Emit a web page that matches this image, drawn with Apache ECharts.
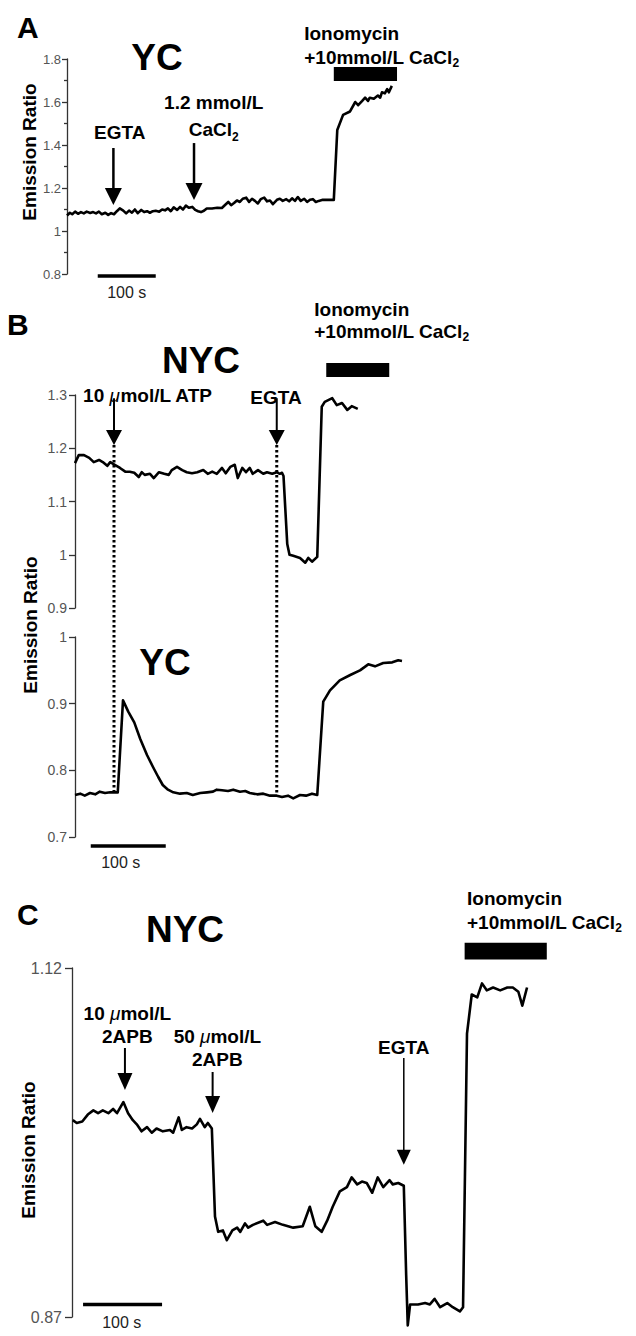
<!DOCTYPE html>
<html>
<head>
<meta charset="utf-8">
<script src="https://cdn.jsdelivr.net/npm/echarts@6/dist/echarts.min.js"></script>
<style>
html,body{margin:0;padding:0;background:#fff;}
#chart{width:636px;height:1336px;}
</style>
</head>
<body>
<div id="chart"></div>
<script>
// ================= DATA =================
// Panel A – YC, emission ratio vs time (s)
const timeA = [0,5,9,14,19,24,29,34,40,45,50,55,60,66,71,76,81,86,91,97,102,107,112,117,122,128,133,138,143,148,153,159,164,169,174,179,184,190,195,200,205,210,216,221,226,231,236,241,250,259,267,272,278,283,288,293,298,303,309,314,319,324,329,334,340,345,350,355,362,367,372,378,383,388,393,398,403,409,414,419,424,429,434,441,448,460,466,476,488,497,502,509,514,519,522,529,536,540,543,548,552,555,560];
const ratioA = [1.072,1.085,1.078,1.09,1.08,1.088,1.082,1.09,1.084,1.088,1.082,1.09,1.078,1.085,1.075,1.083,1.078,1.092,1.105,1.095,1.082,1.095,1.085,1.1,1.083,1.098,1.088,1.092,1.085,1.092,1.094,1.09,1.1,1.096,1.105,1.092,1.11,1.098,1.112,1.1,1.118,1.108,1.112,1.098,1.092,1.088,1.094,1.105,1.105,1.108,1.107,1.12,1.135,1.12,1.13,1.142,1.135,1.15,1.155,1.135,1.15,1.14,1.128,1.148,1.155,1.138,1.142,1.125,1.145,1.15,1.14,1.148,1.138,1.152,1.14,1.158,1.14,1.15,1.135,1.145,1.148,1.135,1.14,1.145,1.145,1.145,1.47,1.54,1.556,1.6,1.585,1.605,1.62,1.605,1.62,1.615,1.63,1.62,1.645,1.64,1.66,1.645,1.675];

// Panel B – NYC (top) and YC (bottom)
const timeBnyc = [0,5,12,19,25,32,37,43,47,53,60,67,73,79,85,89,93,100,105,112,119,125,129,136,143,149,156,163,171,177,183,189,196,201,207,213,217,223,228,233,237,244,251,256,263,269,273,276,278,283,286,291,300,307,311,316,323,329,333,343,349,356,363,369,377];
const ratioBnyc = [1.172,1.187,1.187,1.182,1.174,1.178,1.174,1.167,1.174,1.169,1.163,1.156,1.156,1.154,1.146,1.155,1.150,1.152,1.144,1.155,1.152,1.150,1.159,1.165,1.159,1.155,1.153,1.155,1.159,1.152,1.156,1.152,1.163,1.153,1.165,1.169,1.144,1.163,1.155,1.163,1.152,1.159,1.152,1.155,1.152,1.155,1.152,1.154,1.148,1.02,1.0,0.998,0.994,0.985,0.994,0.987,0.996,1.278,1.287,1.294,1.281,1.285,1.272,1.279,1.274];
const timeByc = [0,7,13,20,27,33,40,47,57,64,71,79,87,96,104,111,117,124,131,140,149,157,167,176,184,189,196,204,211,220,227,233,243,251,260,269,276,284,291,300,308,316,323,331,340,353,367,380,391,400,411,423,431,436];
const ratioByc = [0.763,0.765,0.762,0.766,0.764,0.768,0.766,0.767,0.767,0.905,0.888,0.872,0.847,0.823,0.805,0.79,0.778,0.771,0.767,0.765,0.766,0.763,0.766,0.767,0.768,0.771,0.77,0.769,0.771,0.768,0.769,0.766,0.764,0.765,0.762,0.762,0.76,0.762,0.758,0.763,0.762,0.765,0.763,0.903,0.92,0.935,0.943,0.95,0.959,0.956,0.961,0.962,0.965,0.964];

// Panel C – NYC
const timeC = [1,6,13,20,27,33,39,46,52,57,65,71,77,82,88,95,101,107,115,124,128,135,139,145,152,158,162,168,172,177,181,185,191,196,203,209,213,219,223,229,242,247,257,267,280,292,301,308,316,323,330,339,348,354,361,367,373,380,387,394,402,406,413,420,423,425,428,438,447,453,459,466,475,482,491,495,500,506,513,519,525,533,542,551,558,565,570,576];
const ratioC = [1.011,1.009,1.010,1.015,1.018,1.016,1.018,1.016,1.019,1.016,1.024,1.016,1.011,1.008,1.003,1.006,1.002,1.005,1.003,1.004,1.002,1.013,1.004,1.006,1.005,1.008,1.012,1.006,1.009,1.005,0.942,0.931,0.932,0.925,0.932,0.934,0.931,0.937,0.934,0.936,0.939,0.936,0.938,0.936,0.934,0.935,0.949,0.935,0.931,0.939,0.949,0.960,0.963,0.970,0.965,0.967,0.966,0.959,0.970,0.963,0.968,0.965,0.966,0.964,0.900,0.864,0.879,0.879,0.880,0.879,0.883,0.877,0.880,0.877,0.874,0.877,1.073,1.101,1.099,1.109,1.104,1.106,1.104,1.106,1.106,1.103,1.093,1.106];

// Tick labels
const ticksA = [0.8, 1.8, 0.2];     // min, max, step
const ticksBnyc = [0.9, 1.3, 0.1];
const ticksByc = [0.7, 1.0, 0.1];
const ticksC = [0.87, 1.12];

// Events (time of addition, s) and labels
const eventsA = [{t: 80, label: 'EGTA'}, {t: 219, label: '1.2 mmol/L\nCaCl{sub|2}'}];
const eventsB = [{t: 52, label: '10 {mu|μ}mol/L ATP'}, {t: 269, label: 'EGTA'}];
const eventsC = [{t: 67, label: '10 {mu|μ}mol/L\n2APB'}, {t: 178, label: '50 {mu|μ}mol/L\n2APB'}, {t: 420, label: 'EGTA'}];
const ionomycinA = [460, 569];
const ionomycinB = [335, 419];
const ionomycinC = [497, 601];
const ionoLabel = 'Ionomycin\n+10mmol/L CaCl{sub|2}';
const scaleBarSeconds = 100;

// ================= STYLE / LAYOUT =================
const FONT = '"Liberation Sans", Arial, Helvetica, sans-serif';
const RICH = {
  sub: {fontSize: 12, fontWeight: 'bold', fontFamily: FONT, lineHeight: 12, verticalAlign: 'bottom', fill: '#000'},
  mu: {fontSize: 19, fontStyle: 'italic', fontWeight: 'normal', fontFamily: FONT, fill: '#000'}
};

// annotation layouts (in data coordinates of each panel)
const annA = [
  {k: 'arrow', t: eventsA[0].t, v0: 1.386, v1: 1.121, hw: 8.5, hh: 17, lw: 2.5},
  {k: 'text', t: 91, v: 1.456, text: eventsA[0].label},
  {k: 'arrow', t: eventsA[1].t, v0: 1.409, v1: 1.144, hw: 8.5, hh: 17, lw: 2.5},
  {k: 'text', t: 253, v: 1.533, text: eventsA[1].label, lh: 27},
  {k: 'rect', t0: ionomycinA[0], t1: ionomycinA[1], v0: 1.763, v1: 1.698},
  {k: 'text', t: 409, v: 1.865, text: ionoLabel, align: 'left', lh: 24},
  {k: 'hbar', t0: 53, t1: 53 + scaleBarSeconds, v: 0.791, lw: 3.5},
  {k: 'stext', t: 103, v: 0.712, text: scaleBarSeconds + ' s'}
];
const annBtop = [
  {k: 'dots', t: eventsB[0].t, v0: 1.206, v1: 0.549},
  {k: 'dots', t: eventsB[1].t, v0: 1.206, v1: 0.549},
  {k: 'arrow', t: eventsB[0].t, v0: 1.294, v1: 1.206, hw: 8, hh: 15, lw: 2},
  {k: 'arrow', t: eventsB[1].t, v0: 1.294, v1: 1.206, hw: 8, hh: 15, lw: 2},
  {k: 'text', t: 97, v: 1.300, text: eventsB[0].label},
  {k: 'text', t: 268, v: 1.296, text: eventsB[1].label},
  {k: 'rect', t0: ionomycinB[0], t1: ionomycinB[1], v0: 1.360, v1: 1.334},
  {k: 'text', t: 319, v: 1.439, text: ionoLabel, align: 'left', lh: 22}
];
const annBbot = [
  {k: 'hbar', t0: 21, t1: 21 + scaleBarSeconds, v: 0.6865, lw: 3.5},
  {k: 'stext', t: 61, v: 0.6625, text: scaleBarSeconds + ' s'}
];
const annC = [
  {k: 'arrow', t: eventsC[0].t, v0: 1.0627, v1: 1.0326, hw: 7.5, hh: 17, lw: 2},
  {k: 'text', t: 70, v: 1.0795, text: eventsC[0].label, lh: 23},
  {k: 'arrow', t: eventsC[1].t, v0: 1.0455, v1: 1.0161, hw: 7.5, hh: 17, lw: 2},
  {k: 'text', t: 184, v: 1.063, text: eventsC[1].label, lh: 23},
  {k: 'arrow', t: eventsC[2].t, v0: 1.0555, v1: 0.979, hw: 7, hh: 15, lw: 1.5},
  {k: 'text', t: 420, v: 1.0634, text: eventsC[2].label},
  {k: 'rect', t0: ionomycinC[0], t1: ionomycinC[1], v0: 1.138, v1: 1.126},
  {k: 'text', t: 500, v: 1.1615, text: ionoLabel, align: 'left', lh: 24},
  {k: 'hbar', t0: 14, t1: 14 + scaleBarSeconds, v: 0.879, lw: 3.5},
  {k: 'stext', t: 63, v: 0.8664, text: scaleBarSeconds + ' s'}
];

function renderAnn(items) {
  return function (params, api) {
    const it = items[params.dataIndex];
    const P = (t, v) => api.coord([t, v]);
    if (it.k === 'arrow') {
      const a = P(it.t, it.v0), b = P(it.t, it.v1);
      return {type: 'group', children: [
        {type: 'line', shape: {x1: a[0], y1: a[1], x2: b[0], y2: b[1] - it.hh + 1}, style: {stroke: '#000', lineWidth: it.lw}},
        {type: 'polygon', shape: {points: [[b[0] - it.hw, b[1] - it.hh], [b[0] + it.hw, b[1] - it.hh], [b[0], b[1]]]}, style: {fill: '#000'}}
      ]};
    }
    if (it.k === 'dots') {
      const a = P(it.t, it.v0), b = P(it.t, it.v1);
      return {type: 'line', shape: {x1: a[0], y1: a[1], x2: b[0], y2: b[1]}, style: {stroke: '#000', lineWidth: 3, lineDash: [2.5, 2.5]}};
    }
    if (it.k === 'rect') {
      const a = P(it.t0, it.v0), b = P(it.t1, it.v1);
      return {type: 'rect', shape: {x: a[0], y: a[1], width: b[0] - a[0], height: b[1] - a[1]}, style: {fill: '#000'}};
    }
    if (it.k === 'hbar') {
      const a = P(it.t0, it.v), b = P(it.t1, it.v);
      return {type: 'line', shape: {x1: a[0], y1: a[1], x2: b[0], y2: b[1]}, style: {stroke: '#000', lineWidth: it.lw}};
    }
    if (it.k === 'text' || it.k === 'stext') {
      const p = P(it.t, it.v);
      const bold = it.k === 'text';
      return {type: 'text', x: p[0], y: p[1], style: {
        text: it.text, rich: RICH,
        fontSize: bold ? 19 : 16, fontWeight: bold ? 'bold' : 'normal', fontFamily: FONT,
        lineHeight: it.lh || 22, fill: bold ? '#000' : '#222',
        align: it.align || 'center', verticalAlign: 'middle'
      }};
    }
    return null;
  };
}

function zip(t, v) { return t.map((x, i) => [x, v[i]]); }

const axisLineStyle = {color: '#333', width: 1.3};
function yAx(grid, extra) {
  return Object.assign({
    type: 'value', gridIndex: grid,
    axisLine: {show: true, lineStyle: axisLineStyle},
    axisTick: {show: true, length: 5, lineStyle: axisLineStyle},
    axisLabel: {color: '#555', fontSize: 13, fontFamily: FONT, margin: 6},
    splitLine: {show: false}
  }, extra);
}

const traceStyle = {color: '#000', width: 2.6, join: 'round'};
function trace(grid, t, v) {
  return {type: 'line', xAxisIndex: grid, yAxisIndex: grid, data: zip(t, v), showSymbol: false, symbol: 'none',
    clip: false, silent: true, lineStyle: traceStyle, z: 5};
}
function annSeries(grid, items) {
  return {type: 'custom', xAxisIndex: grid, yAxisIndex: grid, clip: false, silent: true, z: 6,
    data: items.map(it => [it.t !== undefined ? it.t : it.t0, it.v !== undefined ? it.v : it.v0]),
    renderItem: renderAnn(items)};
}

function bigText(text, x, y, size, align, rot) {
  return {type: 'text', x: x, y: y, rotation: rot || 0, silent: true,
    style: {text: text, fontSize: size, fontWeight: 'bold', fontFamily: FONT, fill: '#000',
      align: align || 'center', verticalAlign: 'middle'}};
}

const chart = echarts.init(document.getElementById('chart'), null, {renderer: 'svg', width: 636, height: 1336});
chart.setOption({
  animation: false,
  backgroundColor: '#fff',
  grid: [
    {left: 67, top: 59, width: 348, height: 215, containLabel: false, outerBoundsMode: 'none'},
    {left: 75, top: 395, width: 330, height: 213, containLabel: false, outerBoundsMode: 'none'},
    {left: 75, top: 637, width: 330, height: 200, containLabel: false, outerBoundsMode: 'none'},
    {left: 72, top: 968, width: 474, height: 349, containLabel: false, outerBoundsMode: 'none'}
  ],
  xAxis: [
    {type: 'value', gridIndex: 0, min: 0, max: 600, show: false},
    {type: 'value', gridIndex: 1, min: 0, max: 440, show: false},
    {type: 'value', gridIndex: 2, min: 0, max: 440, show: false},
    {type: 'value', gridIndex: 3, min: 0, max: 600, show: false}
  ],
  yAxis: [
    yAx(0, {min: ticksA[0], max: ticksA[1], interval: ticksA[2],
      minorTick: {show: true, splitNumber: 2, length: 3, lineStyle: axisLineStyle}}),
    yAx(1, {min: ticksBnyc[0], max: ticksBnyc[1], interval: ticksBnyc[2],
      axisLabel: {color: '#555', fontSize: 14, fontFamily: FONT, margin: 8}, axisTick: {show: true, length: 6, lineStyle: axisLineStyle}}),
    yAx(2, {min: ticksByc[0], max: ticksByc[1], interval: ticksByc[2],
      axisLabel: {color: '#555', fontSize: 14, fontFamily: FONT, margin: 8}, axisTick: {show: true, length: 6, lineStyle: axisLineStyle}}),
    yAx(3, {min: ticksC[0], max: ticksC[1],
      axisLabel: {color: '#555', fontSize: 16, fontFamily: FONT, margin: 10, customValues: ticksC},
      axisTick: {show: true, length: 7, lineStyle: axisLineStyle, customValues: ticksC}})
  ],
  series: [
    trace(0, timeA, ratioA),
    trace(1, timeBnyc, ratioBnyc),
    trace(2, timeByc, ratioByc),
    trace(3, timeC, ratioC),
    annSeries(0, annA),
    annSeries(1, annBtop),
    annSeries(2, annBbot),
    annSeries(3, annC)
  ],
  graphic: [
    bigText('A', 17, 27, 30, 'left'),
    bigText('YC', 157, 57, 37),
    bigText('B', 7, 324, 30, 'left'),
    bigText('NYC', 201, 360, 37),
    bigText('YC', 165, 662, 37),
    bigText('C', 17, 914, 30, 'left'),
    bigText('NYC', 185, 929, 37),
    bigText('Emission Ratio', 29, 152, 19, 'center', Math.PI / 2),
    bigText('Emission Ratio', 30, 625, 19, 'center', Math.PI / 2),
    bigText('Emission Ratio', 28, 1150, 19, 'center', Math.PI / 2)
  ]
});
</script>
</body>
</html>
